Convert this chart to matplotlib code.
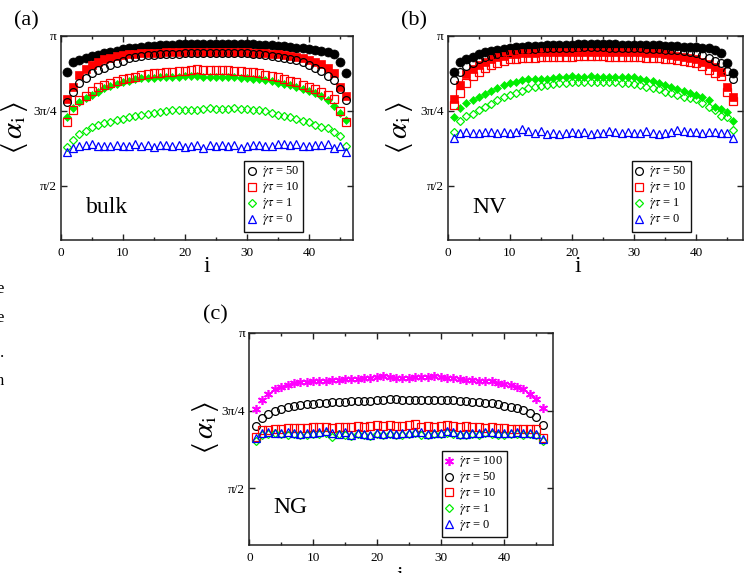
#!/usr/bin/env python3
"""
Mean bond angle <alpha_i> along the chain (bead index i) for several shear rates.
Three panels: (a) bulk, (b) NV, (c) NG. Values read off the published figure, in degrees.
"""

import numpy as np
import matplotlib
matplotlib.use('Agg')
import matplotlib.pyplot as plt

plt.rcParams['font.family'] = ['Liberation Serif', 'DejaVu Serif']
plt.rcParams['mathtext.fontset'] = 'stix'

# bead index
idx = np.arange(1, 47)

# --- (a) bulk ---
a_fill_black = [158.6, 164.2, 165.6, 166.6, 167.8, 168.8, 169.8, 170.4, 171.2, 172.2,
                172.6, 173.0, 173.4, 173.8, 174.2, 174.4, 174.6, 174.8, 175.0, 175.0,
                175.2, 175.2, 175.4, 175.4, 175.4, 175.4, 175.2, 175.2, 175.2, 175.0,
                175.0, 174.8, 174.6, 174.4, 174.2, 173.8, 173.4, 173.0, 172.6, 172.2,
                171.6, 171.0, 170.2, 169.0, 164.2, 158.0]
a_fill_red = [142.2, 149.6, 156.6, 160.0, 162.6, 164.6, 166.0, 167.0, 168.0, 168.6,
              169.0, 169.4, 169.6, 169.8, 170.0, 170.0, 170.2, 170.2, 170.4, 170.4,
              170.4, 170.4, 170.4, 170.4, 170.4, 170.4, 170.4, 170.2, 170.2, 170.2,
              170.0, 169.8, 169.6, 169.4, 169.0, 168.6, 168.0, 167.4, 166.6, 165.8,
              164.6, 163.0, 160.6, 157.6, 149.2, 143.6]
a_fill_green = [131.0, 136.6, 140.0, 142.6, 144.6, 146.6, 148.6, 150.2, 151.2, 152.6,
                153.2, 154.0, 154.6, 154.8, 155.0, 155.2, 155.4, 155.6, 155.6, 155.8,
                155.8, 155.8, 155.6, 155.6, 155.6, 155.4, 155.4, 155.2, 155.0, 154.8,
                154.4, 154.0, 153.4, 152.8, 152.0, 151.2, 150.4, 149.6, 148.4, 147.2,
                145.8, 144.0, 141.6, 138.0, 133.6, 129.2]
a_g50 = [140.0, 146.6, 151.6, 155.0, 157.6, 159.6, 161.0, 162.6, 163.6, 165.2,
         166.6, 167.6, 168.0, 168.6, 168.8, 169.0, 169.2, 169.4, 169.4, 169.6,
         169.6, 169.8, 169.8, 169.8, 169.8, 169.8, 169.8, 169.6, 169.6, 169.6,
         169.4, 169.2, 168.8, 168.2, 167.6, 167.0, 166.4, 165.6, 164.2, 162.6,
         160.8, 158.8, 156.2, 153.6, 148.0, 141.6]
a_g10 = [128.2, 135.6, 141.6, 143.6, 147.2, 149.4, 150.6, 152.0, 153.2, 154.0,
         154.8, 155.6, 156.4, 157.0, 157.6, 158.0, 158.4, 158.6, 159.0, 159.2,
         159.6, 160.0, 159.8, 159.8, 159.6, 159.6, 159.4, 159.2, 158.8, 158.6,
         158.2, 157.6, 156.6, 156.0, 155.2, 154.2, 153.2, 152.2, 150.8, 149.2,
         148.0, 146.6, 144.6, 142.2, 134.6, 128.0]
a_g1 = [113.2, 117.6, 121.0, 122.6, 125.2, 126.6, 127.6, 128.2, 129.2, 130.0,
        131.0, 131.6, 132.6, 133.2, 133.6, 134.0, 134.6, 135.2, 135.2, 135.6,
        135.2, 135.6, 136.0, 136.6, 136.0, 136.2, 136.0, 136.6, 136.0, 136.0,
        135.6, 135.2, 134.6, 133.6, 132.6, 131.6, 131.2, 130.0, 128.6, 128.0,
        126.6, 125.2, 124.6, 122.0, 119.6, 113.6]
a_g0 = [110.0, 112.6, 113.6, 114.2, 115.0, 113.8, 114.0, 113.6, 114.2, 113.6,
        114.0, 114.8, 113.8, 114.2, 113.4, 114.2, 114.6, 113.8, 114.2, 113.0,
        114.0, 114.4, 112.8, 114.2, 114.0, 114.6, 113.8, 114.2, 112.6, 114.0,
        114.6, 114.2, 114.0, 113.6, 114.8, 115.0, 114.6, 114.8, 114.0, 113.8,
        114.2, 114.4, 114.8, 112.6, 114.0, 110.4]

# --- (b) NV ---
b_fill_black = [158.6, 164.4, 166.0, 167.6, 169.2, 170.2, 171.0, 171.6, 172.4, 173.0,
                173.4, 173.6, 173.8, 174.0, 174.2, 174.4, 174.6, 174.6, 174.8, 174.8,
                175.0, 175.0, 175.0, 175.0, 175.0, 175.0, 175.0, 174.8, 174.8, 174.8,
                174.6, 174.6, 174.4, 174.4, 174.2, 174.0, 173.8, 173.6, 173.6, 173.4,
                173.0, 172.6, 171.6, 169.6, 164.0, 158.0]
b_fill_red = [142.2, 150.6, 157.2, 160.0, 162.4, 164.6, 166.0, 167.2, 168.2, 169.0,
              169.4, 169.6, 169.8, 170.0, 170.2, 170.2, 170.4, 170.4, 170.6, 170.6,
              170.6, 170.6, 170.6, 170.6, 170.6, 170.6, 170.4, 170.4, 170.4, 170.2,
              170.2, 170.0, 169.8, 169.6, 169.2, 168.8, 168.2, 167.6, 166.8, 166.0,
              164.6, 163.0, 161.6, 158.6, 149.2, 143.2]
b_fill_green = [131.0, 136.6, 139.6, 141.6, 143.2, 145.2, 147.2, 149.0, 150.4, 151.6,
                152.4, 153.6, 154.0, 154.0, 154.2, 154.4, 154.6, 155.2, 155.6, 156.0,
                155.6, 155.6, 155.8, 155.6, 155.6, 155.6, 155.6, 155.6, 155.4, 155.2,
                154.4, 153.6, 153.0, 151.8, 150.6, 149.2, 148.0, 147.2, 145.6, 144.6,
                143.2, 141.6, 137.2, 136.0, 134.0, 128.6]
b_g50 = [153.6, 158.6, 162.0, 164.0, 166.0, 167.2, 168.2, 169.2, 170.0, 170.6,
         171.2, 171.6, 171.8, 172.0, 172.4, 172.6, 172.6, 172.8, 172.8, 173.0,
         173.0, 173.2, 173.2, 173.2, 173.2, 173.0, 173.0, 173.0, 172.8, 172.8,
         172.6, 172.4, 172.2, 172.0, 171.8, 171.6, 171.4, 171.0, 170.4, 169.6,
         168.6, 166.6, 165.2, 163.6, 159.2, 154.2]
b_g10 = [138.6, 145.6, 151.6, 156.0, 158.6, 161.0, 162.6, 164.0, 165.2, 166.0,
         166.4, 166.6, 166.8, 167.0, 167.2, 167.4, 167.4, 167.6, 167.6, 167.6,
         167.8, 167.8, 167.8, 167.8, 167.8, 167.6, 167.6, 167.6, 167.4, 167.4,
         167.2, 167.0, 166.8, 166.6, 166.4, 166.0, 165.6, 165.2, 164.4, 163.6,
         162.0, 159.6, 157.6, 156.0, 146.6, 140.6]
b_g1 = [122.0, 128.6, 131.6, 133.2, 135.2, 137.2, 139.2, 141.2, 143.2, 144.6,
        146.0, 147.2, 148.6, 149.6, 150.0, 150.6, 151.0, 151.6, 152.0, 152.4,
        152.4, 152.6, 152.6, 152.6, 152.6, 152.4, 152.4, 152.0, 151.6, 151.2,
        150.4, 149.6, 148.8, 148.0, 146.6, 145.6, 144.6, 143.2, 142.6, 142.0,
        139.6, 137.2, 135.2, 132.0, 131.2, 123.6]
b_g0 = [118.6, 121.8, 122.4, 121.6, 121.4, 122.2, 122.4, 121.8, 122.2, 121.4,
        122.4, 123.8, 122.8, 121.6, 123.0, 121.0, 121.8, 121.2, 121.4, 122.2,
        121.6, 122.0, 121.2, 121.6, 121.4, 122.6, 122.2, 121.6, 122.4, 121.6,
        121.8, 122.8, 121.6, 121.0, 121.4, 122.2, 123.4, 122.6, 122.0, 122.2,
        121.8, 122.4, 122.0, 121.8, 121.6, 118.6]

# --- (c) NG ---
c_g100 = [135.9, 141.1, 144.5, 147.3, 148.8, 149.8, 150.7, 151.3, 151.5, 152.1,
          152.1, 152.3, 152.6, 152.6, 153.0, 153.2, 153.4, 153.6, 153.6, 154.2,
          155.0, 154.6, 154.0, 154.0, 154.0, 154.2, 154.2, 154.4, 155.0, 154.6,
          153.8, 153.6, 153.4, 152.8, 152.6, 152.2, 152.2, 151.8, 151.2, 150.4,
          149.8, 148.8, 147.2, 144.5, 141.6, 136.2]
c_g50 = [126.2, 130.5, 133.0, 134.7, 135.9, 136.8, 137.6, 138.2, 138.8, 138.8,
         139.2, 139.6, 139.8, 140.1, 140.1, 140.3, 140.5, 140.7, 140.7, 141.1,
         141.3, 141.5, 141.5, 141.3, 141.3, 141.3, 141.3, 141.2, 141.0, 141.2,
         141.0, 141.0, 140.7, 140.4, 140.1, 139.8, 139.5, 139.2, 138.6, 137.6,
         136.8, 136.2, 135.3, 133.7, 131.0, 126.6]
c_g10 = [119.9, 123.6, 123.8, 124.2, 124.4, 124.7, 125.1, 124.7, 125.1, 125.3,
         125.3, 125.6, 125.1, 125.6, 125.3, 125.6, 125.8, 125.6, 126.0, 126.6,
         126.2, 126.4, 126.0, 126.2, 126.6, 127.2, 125.3, 126.0, 125.6, 125.8,
         126.4, 126.0, 125.6, 125.8, 125.4, 125.6, 125.0, 125.2, 125.0, 124.8,
         124.6, 124.6, 124.2, 124.2, 124.1, 118.9]
c_g1 = [117.4, 121.0, 121.4, 121.8, 121.2, 120.6, 121.4, 120.8, 121.0, 121.6,
        121.2, 122.0, 119.8, 121.4, 121.0, 120.4, 121.6, 120.8, 120.2, 121.4,
        121.0, 121.2, 120.6, 121.0, 121.4, 121.8, 121.0, 120.6, 121.2, 121.4,
        122.2, 121.6, 121.0, 120.8, 121.2, 121.0, 121.8, 121.2, 121.0, 120.6,
        121.2, 121.4, 121.0, 121.2, 121.0, 117.6]
c_g0 = [119.0, 122.2, 122.6, 122.0, 121.8, 122.4, 122.2, 121.6, 122.0, 121.8,
        122.4, 123.4, 122.0, 121.6, 122.8, 121.0, 121.8, 121.4, 120.8, 122.2,
        121.6, 122.2, 121.2, 121.8, 122.0, 122.6, 122.4, 121.6, 121.8, 122.2,
        123.2, 122.6, 121.2, 121.4, 122.0, 121.8, 122.8, 122.4, 121.8, 122.0,
        122.2, 122.4, 122.0, 121.8, 121.6, 118.8]

ytick_pos = [np.pi / 2, 3 * np.pi / 4, np.pi]
ytick_labels = ['π/2', '3π/4', 'π']
xtick_pos = [0, 10, 20, 30, 40]

BLACK, RED, GREEN, BLUE, MAGENTA = '#000000', '#ff0000', '#00ee00', '#0000ff', '#ff00ff'
AX_COL = '#222222'


def rad(vals):
    return np.radians(vals)


def rate_label(val):
    return r'$\dot{\gamma}\tau$ = ' + val


def style_axes(ax, xmax):
    ax.set_xlim(0, xmax)
    ax.set_ylim(1.0, np.pi)
    ax.set_xticks(xtick_pos)
    ax.set_xticks([5, 15, 25, 35, 45], minor=True)
    ax.set_yticks(ytick_pos)
    ax.set_yticklabels(ytick_labels)
    ax.tick_params(which='both', direction='in', top=True, right=True,
                   color=AX_COL, width=1.0, labelsize=9.5)
    ax.tick_params(which='major', length=4.5)
    ax.tick_params(which='minor', length=2.5)
    ax.tick_params(axis='x', pad=5)
    ax.tick_params(axis='y', pad=3)
    for sp in ax.spines.values():
        sp.set_color(AX_COL)
        sp.set_linewidth(1.1)


def open_pt(ax, y, marker, color, ms, label=None):
    ax.plot(idx, rad(y), ls='none', marker=marker, ms=ms, mfc='none',
            mec=color, mew=0.9, label=label)


def fill_pt(ax, y, marker, color, ms):
    ax.plot(idx, rad(y), ls='none', marker=marker, ms=ms, mfc=color,
            mec=color, mew=0.5)


def add_legend(ax, right, bottom):
    leg = ax.legend(loc='lower right', bbox_to_anchor=(right, bottom), fontsize=9,
                    frameon=True, fancybox=False, framealpha=1, edgecolor='#111111',
                    handlelength=0.6, handletextpad=0.5, borderpad=0.3,
                    labelspacing=0.0, borderaxespad=0)
    leg.get_frame().set_linewidth(1.0)


fig = plt.figure(figsize=(7.51, 5.73), dpi=100)
ax_a = fig.add_axes([0.0808, 0.5812, 0.3892, 0.356])
ax_b = fig.add_axes([0.5961, 0.5812, 0.3928, 0.356])
ax_c = fig.add_axes([0.3320, 0.0489, 0.4040, 0.3705])

# panel (a)
fill_pt(ax_a, a_fill_black, 'o', BLACK, 6.5)
fill_pt(ax_a, a_fill_red, 's', RED, 5.2)
fill_pt(ax_a, a_fill_green, 'D', GREEN, 4.2)
open_pt(ax_a, a_g50, 'o', BLACK, 5.6, rate_label('50'))
open_pt(ax_a, a_g10, 's', RED, 5.2, rate_label('10'))
open_pt(ax_a, a_g1, 'D', GREEN, 4.2, rate_label('1'))
open_pt(ax_a, a_g0, '^', BLUE, 5.4, rate_label('0'))
style_axes(ax_a, 47.1)
add_legend(ax_a, 0.83, 0.04)
ax_a.text(0.087, 0.13, 'bulk', transform=ax_a.transAxes, fontsize=17)

# panel (b)
fill_pt(ax_b, b_fill_black, 'o', BLACK, 6.5)
fill_pt(ax_b, b_fill_red, 's', RED, 5.2)
fill_pt(ax_b, b_fill_green, 'D', GREEN, 4.2)
open_pt(ax_b, b_g50, 'o', BLACK, 5.6, rate_label('50'))
open_pt(ax_b, b_g10, 's', RED, 5.2, rate_label('10'))
open_pt(ax_b, b_g1, 'D', GREEN, 4.2, rate_label('1'))
open_pt(ax_b, b_g0, '^', BLUE, 5.4, rate_label('0'))
style_axes(ax_b, 47.5)
add_legend(ax_b, 0.824, 0.04)
ax_b.text(0.085, 0.13, 'NV', transform=ax_b.transAxes, fontsize=17)

# panel (c)
ax_c.plot(idx, rad(c_g100), ls='none', marker=(6, 2, 0), ms=6.5, mec=MAGENTA,
          mew=1.2, label=rate_label('100'))
open_pt(ax_c, c_g50, 'o', BLACK, 5.6, rate_label('50'))
open_pt(ax_c, c_g10, 's', RED, 5.2, rate_label('10'))
open_pt(ax_c, c_g1, 'D', GREEN, 4.2, rate_label('1'))
open_pt(ax_c, c_g0, '^', BLUE, 5.4, rate_label('0'))
style_axes(ax_c, 47.6)
add_legend(ax_c, 0.849, 0.036)
ax_c.text(0.079, 0.15, 'NG', transform=ax_c.transAxes, fontsize=17)

# axis titles and panel letters
ylab = r'$\langle\,\alpha_{\rm i}\,\rangle$'
fig.text(0.019, 0.778, ylab, rotation=90, ha='center', va='center', fontsize=21)
fig.text(0.5320, 0.778, ylab, rotation=90, ha='center', va='center', fontsize=21)
fig.text(0.2730, 0.2548, ylab, rotation=90, ha='center', va='center', fontsize=21)
fig.text(0.2752, 0.5258, 'i', ha='center', va='baseline', fontsize=17)
fig.text(0.7696, 0.5258, 'i', ha='center', va='baseline', fontsize=17)
fig.text(0.5330, -0.016, 'i', ha='center', va='baseline', fontsize=17)
fig.text(0.0355, 0.9634, '(a)', ha='center', va='center', fontsize=16)
fig.text(0.5513, 0.9634, '(b)', ha='center', va='center', fontsize=16)
fig.text(0.2870, 0.4503, '(c)', ha='center', va='center', fontsize=16)

# clipped letters from the neighbouring page text
for ch, ypx in [('e', 289), ('e', 318), ('.', 353), ('n', 381)]:
    fig.text(4 / 751, 1 - ypx / 573, ch, ha='right', va='center', fontsize=12)

fig.savefig('out.png', dpi=100)
